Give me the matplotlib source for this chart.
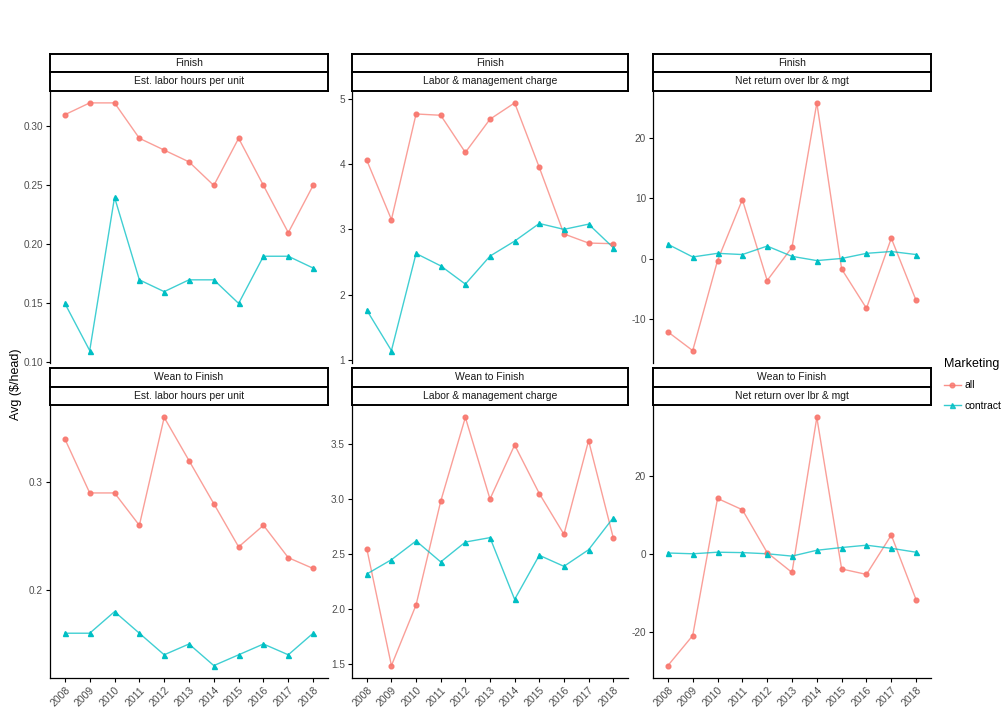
import matplotlib
matplotlib.use("Agg")
import matplotlib.pyplot as plt
from matplotlib.lines import Line2D
import numpy as np

plt.rcParams["font.family"] = ["Liberation Sans", "DejaVu Sans"]

years = [2008, 2009, 2010, 2011, 2012, 2013, 2014, 2015, 2016, 2017, 2018]
year_labels = [str(y) for y in years]

stages = ["Finish", "Wean to Finish"]
measures = ["Est. labor hours per unit", "Labor & management charge", "Net return over lbr & mgt"]

fin_hours_all = [0.31, 0.32, 0.32, 0.29, 0.28, 0.27, 0.25, 0.29, 0.25, 0.21, 0.25]
fin_hours_contract = [0.15, 0.11, 0.24, 0.17, 0.16, 0.17, 0.17, 0.15, 0.19, 0.19, 0.18]

fin_charge_all = [4.06, 3.15, 4.77, 4.75, 4.18, 4.69, 4.94, 3.95, 2.93, 2.79, 2.78]
fin_charge_contract = [1.76, 1.14, 2.63, 2.44, 2.16, 2.59, 2.82, 3.09, 3.00, 3.08, 2.72]

fin_net_all = [-12.1, -15.2, -0.3, 9.8, -3.6, 1.9, 25.8, -1.7, -8.2, 3.4, -6.9]
fin_net_contract = [2.4, 0.3, 0.9, 0.7, 2.1, 0.4, -0.3, 0.05, 0.9, 1.2, 0.7]

wtf_hours_all = [0.34, 0.29, 0.29, 0.26, 0.36, 0.32, 0.28, 0.24, 0.26, 0.23, 0.22]
wtf_hours_contract = [0.16, 0.16, 0.18, 0.16, 0.14, 0.15, 0.13, 0.14, 0.15, 0.14, 0.16]

wtf_charge_all = [2.55, 1.49, 2.04, 2.98, 3.74, 3.00, 3.49, 3.05, 2.68, 3.53, 2.65]
wtf_charge_contract = [2.32, 2.45, 2.62, 2.43, 2.61, 2.65, 2.09, 2.49, 2.39, 2.54, 2.83]

wtf_net_all = [-28.7, -21.0, 14.2, 11.3, 0.3, -4.8, 35.0, -3.9, -5.3, 4.8, -11.8]
wtf_net_contract = [0.2, 0.0, 0.4, 0.3, 0.0, -0.6, 0.9, 1.6, 2.2, 1.4, 0.4]

panel_data = [
    [(fin_hours_all, fin_hours_contract), (fin_charge_all, fin_charge_contract), (fin_net_all, fin_net_contract)],
    [(wtf_hours_all, wtf_hours_contract), (wtf_charge_all, wtf_charge_contract), (wtf_net_all, wtf_net_contract)],
]
yticks = [
    [[0.10, 0.15, 0.20, 0.25, 0.30], [1, 2, 3, 4, 5], [-10, 0, 10, 20]],
    [[0.2, 0.3], [1.5, 2.0, 2.5, 3.0, 3.5], [-20, 0, 20]],
]
yfmt = [["{:.2f}", "{:.0f}", "{:.0f}"], ["{:.1f}", "{:.1f}", "{:.0f}"]]

RED = "#F8766D"
TEAL = "#00BFC4"
GREY = "#4D4D4D"

W, H = 1003, 722
fig = plt.figure(figsize=(W / 100, H / 100), dpi=100)
fig.patch.set_facecolor("white")

def box(x0, y0, x1, y1):
    return [x0 / W, 1 - y1 / H, (x1 - x0) / W, (y1 - y0) / H]

cols = [(50, 328), (352, 628), (653, 931)]
rows = [dict(s1=(54, 72), s2=(72, 90.5), p=(90.5, 363)),
        dict(s1=(368, 387), s2=(387, 405), p=(405, 678))]

for r, row in enumerate(rows):
    for c, (x0, x1) in enumerate(cols):
        ax = fig.add_axes(box(x0, row["p"][0], x1, row["p"][1]))
        a, b = panel_data[r][c]
        xs = np.arange(len(years))
        ax.plot(xs, a, color=RED, lw=1.0, alpha=0.7, zorder=2)
        ax.plot(xs, a, ls="none", marker="o", ms=3.4, color=RED, alpha=0.9, zorder=3)
        ax.plot(xs, b, color=TEAL, lw=1.0, alpha=0.75, zorder=2)
        ax.plot(xs, b, ls="none", marker="^", ms=3.6, color=TEAL, zorder=3)
        lo = min(min(a), min(b)); hi = max(max(a), max(b))
        pad = (hi - lo) * 0.05
        ax.set_ylim(lo - pad, hi + pad)
        ax.set_xlim(-0.6, len(years) - 0.4)
        ax.set_yticks(yticks[r][c])
        ax.set_yticklabels([yfmt[r][c].format(v) for v in yticks[r][c]])
        for sp in ["top", "right"]:
            ax.spines[sp].set_visible(False)
        ax.spines["left"].set_linewidth(0.9)
        ax.spines["bottom"].set_linewidth(0.9)
        ax.tick_params(axis="y", labelsize=7.2, colors="black", labelcolor=GREY, length=3, width=0.8, pad=2)
        if r == 1:
            ax.set_xticks(xs)
            ax.set_xticklabels(year_labels, rotation=45, ha="right", va="top", rotation_mode="anchor")
            ax.tick_params(axis="x", labelsize=7.5, colors="black", labelcolor=GREY, length=3, width=0.8, pad=2)
        else:
            ax.spines["bottom"].set_visible(False)
            ax.set_xticks([])
        ax.set_facecolor("white")
        for (sy0, sy1), txt in [(row["s1"], stages[r]), (row["s2"], measures[c])]:
            sax = fig.add_axes(box(x0, sy0, x1, sy1))
            sax.set_xticks([]); sax.set_yticks([])
            for sp in sax.spines.values():
                sp.set_linewidth(1.4)
                sp.set_color("black")
            sax.text(0.5, 0.5, txt, ha="center", va="center", fontsize=7.5, color="#1A1A1A",
                     transform=sax.transAxes)

fig.text(16 / W, 1 - 384 / H, "Avg ($/head)", rotation=90, ha="center", va="center", fontsize=9, color="black")

handles = [Line2D([0], [0], color=RED, lw=1.0, marker="o", ms=3.4, alpha=0.8),
           Line2D([0], [0], color=TEAL, lw=1.0, marker="^", ms=3.6, alpha=0.8)]
leg = fig.legend(handles, ["all", "contract"], title="Marketing", loc="upper left",
                 bbox_to_anchor=(944 / W, 1 - 358 / H), frameon=False, fontsize=7.5,
                 title_fontsize=9, handlelength=1.6, handletextpad=0.4, labelspacing=1.0,
                 borderaxespad=0, borderpad=0)
leg._legend_box.align = "left"

fig.savefig("out.png", dpi=100, facecolor="white")
